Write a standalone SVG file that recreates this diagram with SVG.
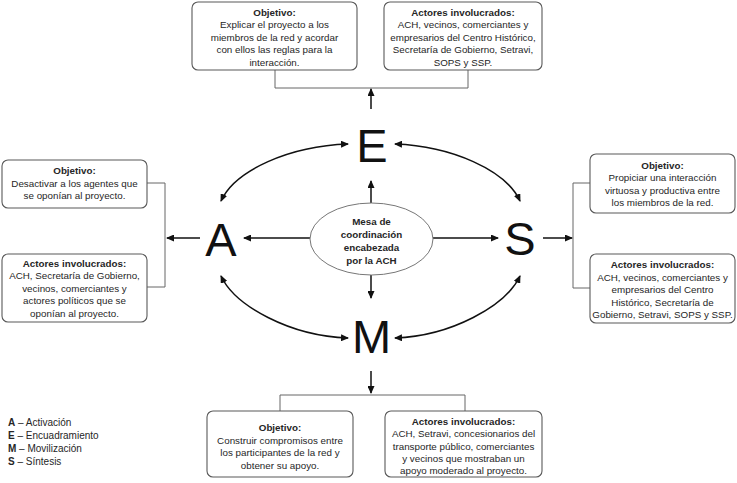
<svg xmlns="http://www.w3.org/2000/svg" width="737" height="483" viewBox="0 0 737 483">
<style>
.box{fill:#fff;stroke:#595959;stroke-width:1.1}
.t{font-family:"Liberation Sans",Arial,sans-serif;font-size:9.8px;fill:#262626;text-anchor:middle}
.b{font-weight:bold}
.big{font-family:"Liberation Sans",Arial,sans-serif;font-size:47px;fill:#111;text-anchor:middle}
.br{fill:none;stroke:#666;stroke-width:1}
.ar{fill:none;stroke:#111;stroke-width:1.5}
.lg{font-family:"Liberation Sans",Arial,sans-serif;font-size:10px;fill:#262626}
</style>
<defs>
<marker id="ah" markerUnits="userSpaceOnUse" markerWidth="8" markerHeight="7" refX="7" refY="3.5" orient="auto-start-reverse">
<path d="M0,0 L8,3.5 L0,7 z" fill="#111"/>
</marker>
</defs>
<rect width="737" height="483" fill="#fff"/>

<g id="connectors">
<path class="br" d="M275,70 V88 H468 V70"/>
<path class="br" d="M147,183 H165 V287 H147"/>
<path class="br" d="M590,183 H573 V288 H590"/>
<path class="br" d="M280,411 V395 H465 V411"/>
<line class="ar" x1="371" y1="109" x2="371" y2="89" marker-end="url(#ah)"/>
<line class="ar" x1="371" y1="371" x2="371" y2="393" marker-end="url(#ah)"/>
<line class="ar" x1="200" y1="238" x2="167" y2="238" marker-end="url(#ah)"/>
<line class="ar" x1="543" y1="238" x2="572" y2="238" marker-end="url(#ah)"/>
<line class="ar" x1="371" y1="203" x2="371" y2="181" marker-end="url(#ah)"/>
<line class="ar" x1="371" y1="275" x2="371" y2="298" marker-end="url(#ah)"/>
<line class="ar" x1="310" y1="238" x2="244" y2="238" marker-end="url(#ah)"/>
<line class="ar" x1="433" y1="238" x2="498" y2="238" marker-end="url(#ah)"/>
<path class="ar" d="M221,201 C235,170 290,146 348,144" marker-start="url(#ah)" marker-end="url(#ah)"/>
<path class="ar" d="M520,201 C506,170 451,146 395,144" marker-start="url(#ah)" marker-end="url(#ah)"/>
<path class="ar" d="M221,276 C235,306 290,336 348,338" marker-start="url(#ah)" marker-end="url(#ah)"/>
<path class="ar" d="M520,276 C506,306 451,336 395,338" marker-start="url(#ah)" marker-end="url(#ah)"/>
</g>

<g id="center">
<ellipse cx="371.5" cy="239" rx="61.5" ry="36" fill="#fff" stroke="#777" stroke-width="1"/>
<text class="t b" font-size="10.3px" x="371.5" y="225">Mesa de</text>
<text class="t b" font-size="10.3px" x="371.5" y="238">coordinación</text>
<text class="t b" font-size="10.3px" x="371.5" y="251">encabezada</text>
<text class="t b" font-size="10.3px" x="371.5" y="264">por la ACH</text>
</g>

<g id="E"><text class="big" x="372" y="162">E</text></g>
<g id="A"><text class="big" x="221" y="256">A</text></g>
<g id="S"><text class="big" x="520" y="255">S</text></g>
<g id="M"><text class="big" x="371.5" y="353">M</text></g>

<g id="top-objetivo">
<rect class="box" x="192" y="2" width="165" height="68" rx="6"/>
<text class="t b" x="274.5" y="15.5">Objetivo:</text>
<text class="t" x="274.5" y="28">Explicar el proyecto a los</text>
<text class="t" x="274.5" y="40.5">miembros de la red y acordar</text>
<text class="t" x="274.5" y="53">con ellos las reglas para la</text>
<text class="t" x="274.5" y="65.5">interacción.</text>
</g>
<g id="top-actores">
<rect class="box" x="384" y="2" width="158" height="68" rx="6"/>
<text class="t b" x="463" y="15.5">Actores involucrados:</text>
<text class="t" x="463" y="28">ACH, vecinos, comerciantes y</text>
<text class="t" x="463" y="40.5">empresarios del Centro Histórico,</text>
<text class="t" x="463" y="53">Secretaría de Gobierno, Setravi,</text>
<text class="t" x="463" y="65.5">SOPS y SSP.</text>
</g>

<g id="left-objetivo">
<rect class="box" x="2" y="160" width="145" height="48" rx="6"/>
<text class="t b" x="74.5" y="174">Objetivo:</text>
<text class="t" x="74.5" y="186.5">Desactivar a los agentes que</text>
<text class="t" x="74.5" y="199">se oponían al proyecto.</text>
</g>
<g id="left-actores">
<rect class="box" x="2" y="254" width="145" height="68" rx="6"/>
<text class="t b" x="74.5" y="266.5">Actores involucrados:</text>
<text class="t" x="74.5" y="279">ACH, Secretaría de Gobierno,</text>
<text class="t" x="74.5" y="291.5">vecinos, comerciantes y</text>
<text class="t" x="74.5" y="304">actores políticos que se</text>
<text class="t" x="74.5" y="316.5">oponían al proyecto.</text>
</g>

<g id="right-objetivo">
<rect class="box" x="590" y="154" width="145" height="59" rx="6"/>
<text class="t b" x="662.5" y="168.5">Objetivo:</text>
<text class="t" x="662.5" y="181">Propiciar una interacción</text>
<text class="t" x="662.5" y="193.5">virtuosa y productiva entre</text>
<text class="t" x="662.5" y="206">los miembros de la red.</text>
</g>
<g id="right-actores">
<rect class="box" x="590" y="254" width="145" height="69" rx="6"/>
<text class="t b" x="662.5" y="268">Actores involucrados:</text>
<text class="t" x="662.5" y="280.5">ACH, vecinos, comerciantes y</text>
<text class="t" x="662.5" y="293">empresarios del Centro</text>
<text class="t" x="662.5" y="305.5">Histórico, Secretaría de</text>
<text class="t" x="662.5" y="318">Gobierno, Setravi, SOPS y SSP.</text>
</g>

<g id="bottom-objetivo">
<rect class="box" x="207" y="411" width="146" height="66" rx="6"/>
<text class="t b" x="280" y="431">Objetivo:</text>
<text class="t" x="280" y="443.5">Construir compromisos entre</text>
<text class="t" x="280" y="456">los participantes de la red y</text>
<text class="t" x="280" y="468.5">obtener su apoyo.</text>
</g>
<g id="bottom-actores">
<rect class="box" x="385" y="411" width="157" height="66" rx="6"/>
<text class="t b" x="463.5" y="424.5">Actores involucrados:</text>
<text class="t" x="463.5" y="437">ACH, Setravi, concesionarios del</text>
<text class="t" x="463.5" y="449.5">transporte público, comerciantes</text>
<text class="t" x="463.5" y="462">y vecinos que mostraban un</text>
<text class="t" x="463.5" y="474">apoyo moderado al proyecto.</text>
</g>

<g id="legend">
<text class="lg" x="8" y="426"><tspan font-weight="bold">A</tspan> – Activación</text>
<text class="lg" x="8" y="439"><tspan font-weight="bold">E</tspan> – Encuadramiento</text>
<text class="lg" x="8" y="451.5"><tspan font-weight="bold">M</tspan> – Movilización</text>
<text class="lg" x="8" y="464.5"><tspan font-weight="bold">S</tspan> – Síntesis</text>
</g>
</svg>
